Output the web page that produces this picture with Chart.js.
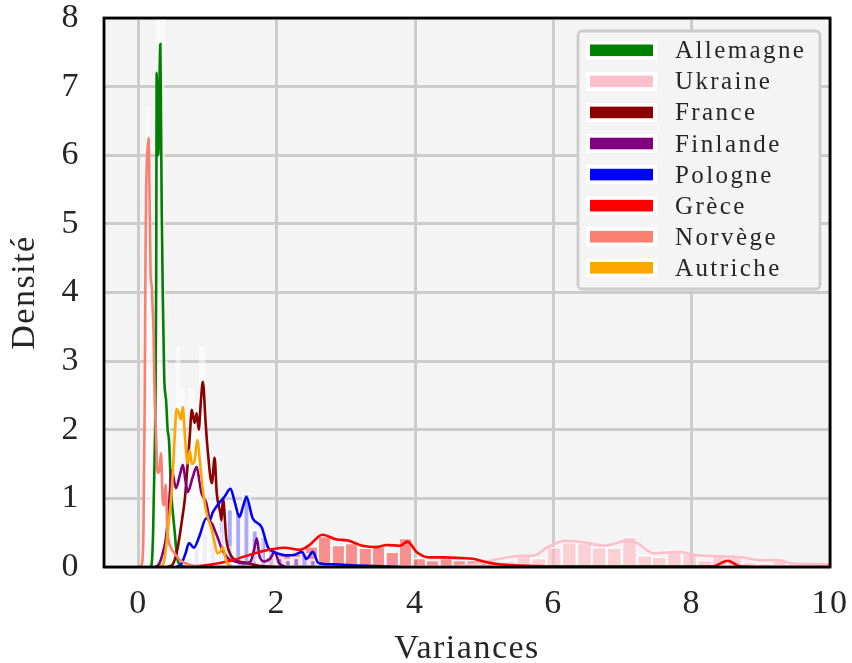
<!DOCTYPE html>
<html>
<head>
<meta charset="utf-8">
<script src="https://cdn.jsdelivr.net/npm/chart.js@4.4.1/dist/chart.umd.min.js"></script>
<style>
  html, body { margin: 0; padding: 0; background: #ffffff; }
  canvas { display: block; }
</style>
</head>
<body>
<canvas id="c" width="852" height="663"></canvas>
<script>
// ---------------- DATA ----------------
const countries = ['Allemagne', 'Ukraine', 'France', 'Finlande', 'Pologne', 'Grèce', 'Norvège', 'Autriche'];
const xTitle = 'Variances';
const yTitle = 'Densité';

// KDE curves: [variance, density]
const kdeAllemagne = [[0.17,0],[0.19,0.05],[0.21,0.5],[0.23,1.5],[0.245,2.5],[0.255,4.2],[0.262,7.2],[0.27,6.6],[0.28,6.0],[0.29,6.1],[0.3,6.9],[0.315,7.62],[0.325,6.5],[0.335,5.2],[0.35,4.0],[0.37,2.8],[0.4,2.4],[0.42,2.0],[0.44,1.85],[0.47,1.12],[0.52,0.54],[0.56,0.12],[0.62,0.02],[0.7,0]];
const kdeUkraine = [[4.4,0],[4.7,0.02],[5.0,0.07],[5.22,0.12],[5.51,0.16],[5.73,0.17],[5.9,0.28],[6.17,0.38],[6.43,0.36],[6.74,0.31],[7.06,0.38],[7.21,0.35],[7.44,0.2],[7.8,0.22],[8.08,0.17],[8.31,0.16],[8.74,0.14],[8.99,0.1],[9.25,0.1],[9.46,0.05],[9.96,0.04],[10.3,0.02]];
const kdeFrance = [[0.42,0],[0.5,0.05],[0.56,0.25],[0.63,0.7],[0.67,1.0],[0.71,1.5],[0.74,1.9],[0.77,2.29],[0.81,2.1],[0.84,2.24],[0.87,2.0],[0.9,2.4],[0.93,2.7],[0.97,2.1],[1.0,1.7],[1.06,1.22],[1.1,1.59],[1.13,1.08],[1.18,0.8],[1.2,0.68],[1.22,1.0],[1.27,0.4],[1.33,0.18],[1.4,0.1],[1.56,0.06],[1.8,0.01],[2.0,0]];
const kdeFinlande = [[0.25,0],[0.3,0.05],[0.35,0.2],[0.4,0.45],[0.44,0.9],[0.48,1.41],[0.54,1.15],[0.6,1.35],[0.64,1.49],[0.68,1.25],[0.71,1.09],[0.78,1.3],[0.84,1.46],[0.88,1.25],[0.91,1.08],[0.98,0.93],[1.03,0.68],[1.07,0.62],[1.1,0.54],[1.14,0.44],[1.19,0.3],[1.24,0.2],[1.3,0.12],[1.4,0.08],[1.52,0.05],[1.62,0.08],[1.67,0.25],[1.71,0.42],[1.75,0.15],[1.82,0.08],[1.9,0.12],[1.97,0.22],[2.03,0.06],[2.12,0]];
const kdePologne = [[0.55,0],[0.62,0.05],[0.68,0.2],[0.73,0.35],[0.8,0.28],[0.88,0.45],[0.98,0.71],[1.03,0.68],[1.07,0.79],[1.14,0.9],[1.24,1.02],[1.33,1.14],[1.39,0.95],[1.46,0.73],[1.51,0.88],[1.56,1.02],[1.65,0.71],[1.78,0.58],[1.87,0.29],[1.95,0.22],[2.0,0.2],[2.14,0.17],[2.26,0.18],[2.36,0.22],[2.43,0.12],[2.52,0.22],[2.6,0.06],[2.8,0.04],[3.2,0.02],[3.8,0]];
const kdeGrece = [[0.7,0],[1.0,0.03],[1.36,0.1],[1.75,0.22],[2.11,0.28],[2.33,0.25],[2.47,0.32],[2.66,0.47],[2.87,0.4],[3.01,0.39],[3.24,0.31],[3.44,0.29],[3.59,0.32],[3.78,0.31],[3.89,0.37],[4.02,0.22],[4.21,0.14],[4.4,0.14],[4.69,0.13],[4.83,0.12],[5.08,0.06],[5.22,0.04],[5.5,0.02],[6.0,0.01],[7.0,0.01],[8.3,0.01],[8.52,0.09],[8.7,0.01],[9.0,0],[10.3,0]];
const kdeNorvege = [[0.02,0],[0.05,0.05],[0.07,0.5],[0.09,2.5],[0.1,4.5],[0.11,5.5],[0.125,6.0],[0.145,6.25],[0.16,5.35],[0.174,4.25],[0.19,4.1],[0.2,3.85],[0.217,3.4],[0.23,2.6],[0.25,2.0],[0.275,1.37],[0.3,1.4],[0.325,1.66],[0.347,1.02],[0.37,0.9],[0.39,1.2],[0.42,0.5],[0.46,0.3],[0.52,0.2],[0.6,0.1],[0.75,0.03],[0.9,0]];
const kdeAutriche = [[0.3,0],[0.36,0.05],[0.42,0.5],[0.48,1.12],[0.52,1.85],[0.55,2.3],[0.58,2.25],[0.61,2.15],[0.64,2.33],[0.67,1.9],[0.71,1.51],[0.74,1.7],[0.77,1.5],[0.81,1.55],[0.85,1.85],[0.89,1.5],[0.93,1.12],[0.98,0.8],[1.06,0.54],[1.1,0.35],[1.14,0.2],[1.18,0.22],[1.22,0.29],[1.26,0.12],[1.29,0.04],[1.35,0]];

// Histograms: [bin centre, density]
const histAllemagne = [[0.2,0.4],[0.24,3.0],[0.28,8.6],[0.32,9.0],[0.36,8.6],[0.4,3.0],[0.44,2.2],[0.48,1.3],[0.52,0.6],[0.56,0.25]];
const histUkraine = [[4.92,0.03],[5.14,0.06],[5.36,0.09],[5.57,0.16],[5.79,0.13],[6.01,0.29],[6.23,0.36],[6.45,0.35],[6.66,0.29],[6.88,0.28],[7.1,0.44],[7.32,0.17],[7.53,0.15],[7.75,0.25],[7.97,0.2],[8.19,0.1],[8.4,0.17],[8.62,0.17],[8.84,0.07],[9.06,0.05],[9.27,0.1],[9.49,0.04],[9.71,0.03]];
const histFrance = [[0.52,0.2],[0.6,0.6],[0.68,1.4],[0.76,2.6],[0.84,2.4],[0.92,3.2],[1.0,1.9],[1.08,1.5],[1.16,1.0],[1.24,0.9],[1.32,0.3],[1.4,0.15],[1.56,0.08]];
const histFinlande = [[0.45,1.6],[0.55,1.2],[0.65,1.6],[0.75,1.1],[0.85,1.7],[0.95,1.0],[1.05,0.8],[1.15,0.5],[1.25,0.2],[1.45,0.1],[1.65,0.3],[1.75,0.4],[1.95,0.25]];
const histPologne = [[0.72,0.15],[0.84,0.3],[0.96,0.5],[1.08,0.62],[1.2,0.7],[1.32,0.86],[1.44,0.82],[1.56,1.08],[1.68,0.55],[1.8,0.45],[1.92,0.29],[2.04,0.15],[2.16,0.12],[2.28,0.15],[2.4,0.2],[2.52,0.12]];
const histGrece = [[1.33,0.04],[1.52,0.06],[1.72,0.1],[1.91,0.15],[2.11,0.2],[2.3,0.2],[2.5,0.3],[2.69,0.45],[2.89,0.32],[3.08,0.35],[3.28,0.28],[3.47,0.3],[3.67,0.22],[3.86,0.42],[4.06,0.13],[4.25,0.1],[4.45,0.13],[4.64,0.1],[4.84,0.1],[5.03,0.06],[5.23,0.03]];
const histNorvege = [[0.09,1.5],[0.13,6.7],[0.17,5.5],[0.21,3.5],[0.25,2.2],[0.29,1.5],[0.33,1.8],[0.37,1.2],[0.41,0.6],[0.45,0.3]];
const histAutriche = [[0.45,0.6],[0.51,1.5],[0.57,3.2],[0.63,2.6],[0.69,1.8],[0.75,2.0],[0.81,1.5],[0.87,2.3],[0.93,1.2],[0.99,0.8],[1.05,0.5],[1.11,0.3],[1.17,0.25],[1.23,0.3]];
const binWidths = [0.04, 0.217, 0.08, 0.1, 0.12, 0.195, 0.04, 0.06];

// ---------------- STYLE ----------------
const lineColors = ['#008000', '#ffc0cb', '#8b0000', '#800080', '#0000ff', '#ff0000', '#fa8072', '#ffa500'];
const barFills = ['rgba(255,255,255,0.55)', 'rgba(255,182,193,0.6)', 'rgba(255,255,255,0.5)', 'rgba(255,255,255,0.5)',
                  'rgba(80,80,255,0.45)', 'rgba(255,0,0,0.42)', 'rgba(255,255,255,0.55)', 'rgba(255,255,255,0.5)'];
const barBorderWidths = [0, 1.5, 0, 0, 2.5, 1.5, 0, 0];
const kdes = [kdeAllemagne, kdeUkraine, kdeFrance, kdeFinlande, kdePologne, kdeGrece, kdeNorvege, kdeAutriche];
const hists = [histAllemagne, histUkraine, histFrance, histFinlande, histPologne, histGrece, histNorvege, histAutriche];

const TEXT = '#262626';
const FONT = "'Liberation Serif', 'DejaVu Serif', serif";
const PX_PER_UNIT = (830 - 104) / 10.5;

const toXY = arr => arr.map(p => ({x: p[0], y: p[1]}));

const datasets = [];
countries.forEach((name, i) => {
  datasets.push({
    type: 'bar',
    label: name + ' hist',
    data: toXY(hists[i]),
    backgroundColor: barFills[i],
    borderColor: 'rgba(255,255,255,0.75)',
    borderWidth: barBorderWidths[i],
    borderSkipped: 'start',
    barThickness: binWidths[i] * PX_PER_UNIT,
    grouped: false,
    order: 100 + i
  });
});
countries.forEach((name, i) => {
  datasets.push({
    type: 'line',
    label: name,
    data: toXY(kdes[i]),
    borderColor: lineColors[i],
    backgroundColor: lineColors[i],
    borderWidth: 2.6,
    pointRadius: 0,
    fill: false,
    cubicInterpolationMode: 'monotone',
    order: countries.length - 1 - i
  });
});

const bgPlugin = {
  id: 'bg',
  beforeDraw(chart) {
    const {ctx, chartArea: a} = chart;
    ctx.save();
    ctx.fillStyle = '#f4f4f4';
    ctx.fillRect(a.left, a.top, a.right - a.left, a.bottom - a.top);
    ctx.restore();
    try { ctx.letterSpacing = '1.5px'; } catch (e) {}
  }
};

const frameLegendPlugin = {
  id: 'frameLegend',
  afterDraw(chart) {
    const {ctx, chartArea: a} = chart;
    ctx.save();
    try { ctx.letterSpacing = '0px'; } catch (e) {}
    // frame
    ctx.strokeStyle = '#000000';
    ctx.lineWidth = 2.8;
    ctx.strokeRect(a.left, a.top, a.right - a.left, a.bottom - a.top);

    // legend box
    const w = 242, h = 258;
    const x0 = a.right - 10 - w, y0 = a.top + 13;
    const r = 4;
    ctx.beginPath();
    ctx.moveTo(x0 + r, y0);
    ctx.arcTo(x0 + w, y0, x0 + w, y0 + h, r);
    ctx.arcTo(x0 + w, y0 + h, x0, y0 + h, r);
    ctx.arcTo(x0, y0 + h, x0, y0, r);
    ctx.arcTo(x0, y0, x0 + w, y0, r);
    ctx.closePath();
    ctx.fillStyle = '#f4f4f4';
    ctx.fill();
    ctx.strokeStyle = '#cccccc';
    ctx.lineWidth = 2.8;
    ctx.stroke();

    ctx.font = "25px " + FONT;
    try { ctx.letterSpacing = '2.4px'; } catch (e) {}
    ctx.textBaseline = 'alphabetic';
    ctx.textAlign = 'left';
    countries.forEach((name, i) => {
      const cy = y0 + 19.3 + i * 31.07;
      ctx.fillStyle = '#ffffff';
      ctx.fillRect(x0 + 8, cy - 9.5, 71, 19);
      ctx.fillStyle = lineColors[i];
      ctx.fillRect(x0 + 12, cy - 5.8, 63, 11.6);
      ctx.fillStyle = TEXT;
      ctx.fillText(name, x0 + 97, cy + 8);
    });
    ctx.restore();
  }
};

new Chart(document.getElementById('c'), {
  type: 'bar',
  data: { datasets },
  plugins: [bgPlugin, frameLegendPlugin],
  options: {
    responsive: false,
    animation: false,
    devicePixelRatio: 1,
    layout: { padding: { top: 18, right: 22, left: 0, bottom: 0 } },
    plugins: { legend: { display: false }, tooltip: { enabled: false } },
    scales: {
      x: {
        type: 'linear',
        min: -0.5,
        max: 10,
        offset: false,
        ticks: { stepSize: 2, includeBounds: false, padding: 17, color: TEXT, font: { family: FONT, size: 34 } },
        grid: { color: '#cccccc', lineWidth: 3, drawTicks: false, offset: false },
        border: { display: false },
        title: { display: true, text: xTitle, color: TEXT, font: { family: FONT, size: 34, lineHeight: 0.8 }, padding: 0 },
        afterFit(s) { s.height = 96; s.paddingLeft = 0; s.paddingRight = 0; }
      },
      y: {
        type: 'linear',
        min: 0,
        max: 8,
        ticks: { stepSize: 1, padding: 24, color: TEXT, font: { family: FONT, size: 34 } },
        grid: { color: '#cccccc', lineWidth: 3, drawTicks: false },
        border: { display: false },
        title: { display: true, text: yTitle, color: TEXT, font: { family: FONT, size: 34, lineHeight: 0.8 }, padding: { top: 11, bottom: 0 } },
        afterFit(s) { s.width = 104; s.paddingTop = 0; s.paddingBottom = 0; }
      }
    }
  }
});
</script>
</body>
</html>
